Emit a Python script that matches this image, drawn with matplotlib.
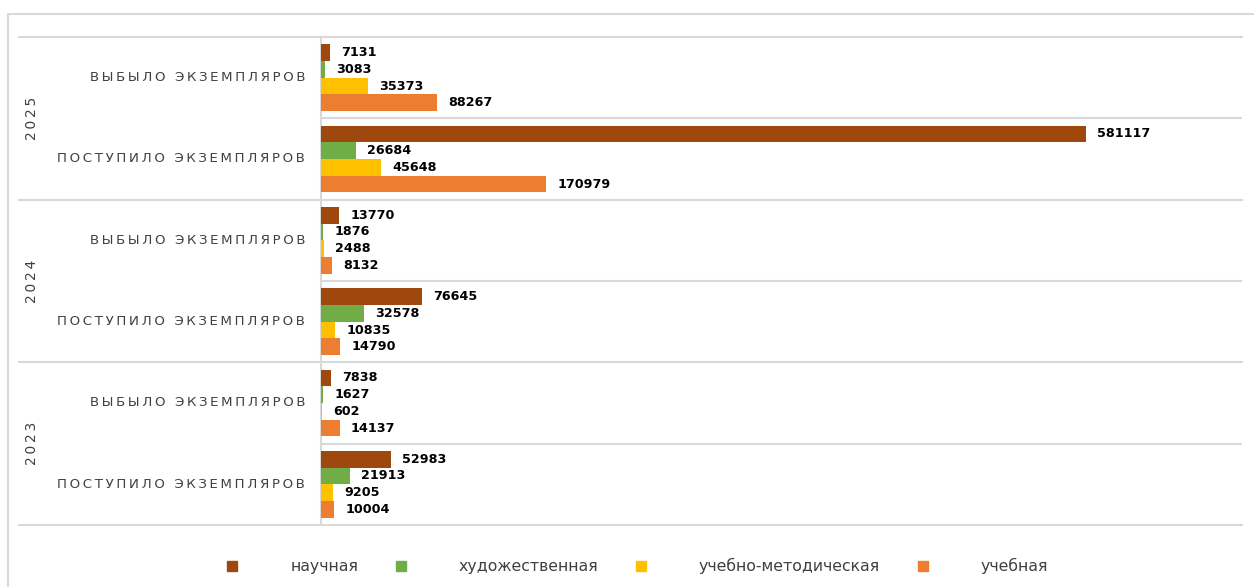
"""Книжный фонд: поступило / выбыло экземпляров по годам и видам литературы."""

import matplotlib
matplotlib.use("Agg")
import matplotlib.pyplot as plt
from matplotlib.lines import Line2D
from matplotlib.patches import Rectangle

plt.rcParams["font.family"] = ["DejaVu Sans"]

# categories bottom -> top
years = ["2023", "2024", "2025"]
subcats = ["ПОСТУПИЛО ЭКЗЕМПЛЯРОВ", "ВЫБЫЛО ЭКЗЕМПЛЯРОВ"]
series = ["научная", "художественная", "учебно-методическая", "учебная"]
colors = ["#9E480E", "#70AD47", "#FFC000", "#ED7D31"]

# values per series, categories in order: 2023 П, 2023 В, 2024 П, 2024 В, 2025 П, 2025 В
nauchnaya = [52983, 7838, 76645, 13770, 581117, 7131]
khudozh = [21913, 1627, 32578, 1876, 26684, 3083]
uch_metod = [9205, 602, 10835, 2488, 45648, 35373]
uchebnaya = [10004, 14137, 14790, 8132, 170979, 88267]
values = [nauchnaya, khudozh, uch_metod, uchebnaya]

W, H = 1254, 587
fig = plt.figure(figsize=(W / 100, H / 100), dpi=100)
ax = fig.add_axes([321 / W, 1 - 525 / H, 921 / W, 488 / H])

grid = "#D9D9D9"
bar_h = 0.205
n = len(years) * len(subcats)
for i, (name, vals, c) in enumerate(zip(series, values, colors)):
    off = (1.5 - i) * bar_h
    ys = [k + off for k in range(n)]
    bars = ax.barh(ys, vals, height=bar_h, color=c, label=name, zorder=3)
    for b, v in zip(bars, vals):
        ax.annotate(str(v), (b.get_width(), b.get_y() + bar_h / 2),
                    xytext=(8, 0), textcoords="offset points",
                    ha="left", va="center", fontsize=9.2, fontweight="bold",
                    color="black", zorder=4)

ax.set_xlim(0, 700000)
ax.set_ylim(-0.5, n - 0.5)
ax.set_xticks([])
ax.set_yticks([])
for s in ["top", "right", "bottom"]:
    ax.spines[s].set_visible(False)
ax.spines["left"].set_color(grid)
ax.spines["left"].set_linewidth(1.5)

# separators: full-width between years, plot-only between sub-categories
left_ext = -(321 - 19) / 921
for k in range(n + 1):
    y = k - 0.5
    if k % 2 == 0:
        ax.axhline(y, xmin=left_ext, xmax=1, color=grid, lw=1.5,
                   clip_on=False, zorder=1)
    else:
        ax.axhline(y, color=grid, lw=1.5, zorder=1)


def spaced(s, sep="\u2009"):
    return sep.join(s)


ytrans = ax.get_yaxis_transform()
for k in range(n):
    ax.text(-16 / 921, k, spaced(subcats[k % 2]), transform=ytrans,
            ha="right", va="center", fontsize=9.6, color="#404040")
for j, yr in enumerate(years):
    ax.text(-(321 - 32) / 921, 2 * j + 0.5, spaced(yr),
            transform=ytrans, rotation=90, ha="center", va="center",
            fontsize=10, color="#404040")

# outer chart frame
fig.add_artist(Rectangle((8 / W, -0.1), 2, 1 - 14 / H + 0.1, fill=False,
                         edgecolor=grid, lw=1.5, transform=fig.transFigure))

handles = [Line2D([], [], marker="s", ls="none", color=c, markersize=7)
           for c in colors]
fig.legend(handles, series, loc="center", bbox_to_anchor=(637 / W, 1 - 566 / H),
           ncol=4, frameon=False, fontsize=11.3, handletextpad=3.3,
           columnspacing=2.3, handlelength=0.8, labelcolor="#404040")

fig.savefig("out.png", dpi=100)
